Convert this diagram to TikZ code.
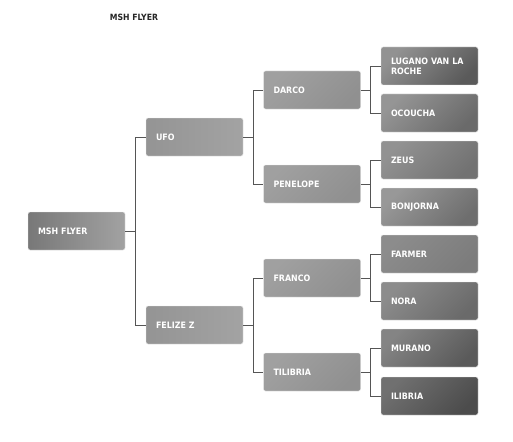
\documentclass[tikz,border=0pt]{standalone}
\usepackage{fontspec}
\newfontfamily\boxfont{DejaVu Sans Condensed Bold}
\begin{document}
\begin{tikzpicture}[x=1pt,y=-1pt,
  box/.style={rectangle, rounded corners=2pt, minimum width=97pt, minimum height=38pt,
    text width=77pt, inner xsep=10pt, inner ysep=0pt, align=left, text=white,
    draw=white!85!gray, line width=0.4pt,
    font=\boxfont\fontsize{8.8}{10}\selectfont},
  lvA/.style={box, left color=c1a, right color=c1b},
  lvB/.style={box, left color=c2a, right color=c2b},
  lvC/.style={box, top color=c3a, bottom color=c3b, shading angle=45},
  conn/.style={draw=c5, line width=0.8pt}]
\definecolor{c1a}{HTML}{787878}
\definecolor{c1b}{HTML}{A2A2A2}
\definecolor{c2a}{HTML}{949494}
\definecolor{c2b}{HTML}{A3A3A3}
\definecolor{c3a}{HTML}{A0A0A0}
\definecolor{c3b}{HTML}{909090}
\definecolor{c5}{HTML}{555555}
\definecolor{l1a}{HTML}{929292}\definecolor{l1b}{HTML}{5A5A5A}
\definecolor{l2a}{HTML}{959595}\definecolor{l2b}{HTML}{6A6A6A}
\definecolor{l3a}{HTML}{929292}\definecolor{l3b}{HTML}{727272}
\definecolor{l4a}{HTML}{989898}\definecolor{l4b}{HTML}{6E6E6E}
\definecolor{l5a}{HTML}{8C8C8C}\definecolor{l5b}{HTML}{7C7C7C}
\definecolor{l6a}{HTML}{8C8C8C}\definecolor{l6b}{HTML}{6A6A6A}
\definecolor{l7a}{HTML}{848484}\definecolor{l7b}{HTML}{5A5A5A}
\definecolor{l8a}{HTML}{707070}\definecolor{l8b}{HTML}{4C4C4C}
\useasboundingbox[fill=white] (0,0) rectangle (513,441);
\node[font=\boxfont\fontsize{8.6}{10}\selectfont, text=black!85] (title) at (134,17) {MSH FLYER};
\node[lvA] (root) at (76.5,231) {MSH FLYER};
\node[lvB] (ufo) at (194.5,137) {UFO};
\node[lvB] (fel) at (194.5,325) {FELIZE Z};
\node[lvC] (darco) at (312,90) {DARCO};
\node[lvC] (pen) at (312,184) {PENELOPE};
\node[lvC] (franco) at (312,278) {FRANCO};
\node[lvC] (til) at (312,372) {TILIBRIA};
\node[box, top color=l1a, bottom color=l1b, shading angle=45] (lug) at (429.5,66) {LUGANO VAN LA ROCHE};
\node[box, top color=l2a, bottom color=l2b, shading angle=45] (oco) at (429.5,113) {OCOUCHA};
\node[box, top color=l3a, bottom color=l3b, shading angle=45] (zeus) at (429.5,160) {ZEUS};
\node[box, top color=l4a, bottom color=l4b, shading angle=45] (bon) at (429.5,207) {BONJORNA};
\node[box, top color=l5a, bottom color=l5b, shading angle=45] (farm) at (429.5,254) {FARMER};
\node[box, top color=l6a, bottom color=l6b, shading angle=45] (nora) at (429.5,301) {NORA};
\node[box, top color=l7a, bottom color=l7b, shading angle=45] (mur) at (429.5,348) {MURANO};
\node[box, top color=l8a, bottom color=l8b, shading angle=45] (ili) at (429.5,396) {ILIBRIA};
\foreach \p/\a/\b in {root/ufo/fel, ufo/darco/pen, fel/franco/til, darco/lug/oco, pen/zeus/bon, franco/farm/nora, til/mur/ili}{
  \draw[conn] (\p.east) -- ++(10,0) coordinate (j);
  \draw[conn] (\a.west) -| (j) |- (\b.west);
}
\end{tikzpicture}
\end{document}
